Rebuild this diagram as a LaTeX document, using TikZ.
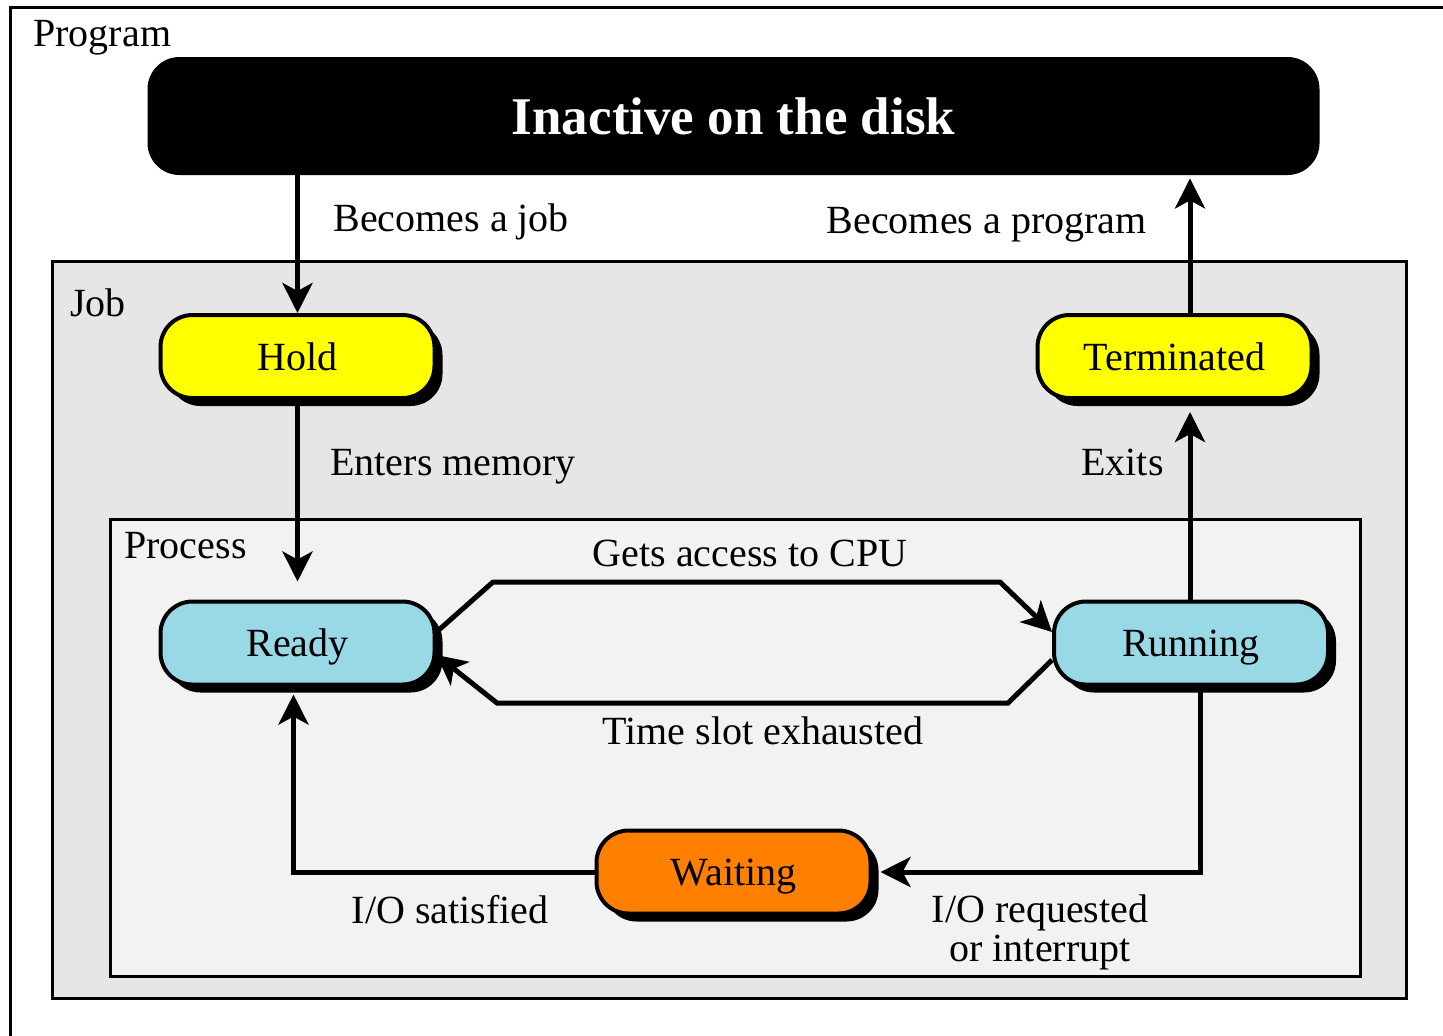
\documentclass[tikz,border=0pt]{standalone}
\usepackage{fontspec}
\setmainfont{Liberation Serif}
\usetikzlibrary{arrows.meta,shadows}
\definecolor{holdyellow}{HTML}{FFFF00}
\definecolor{readyblue}{HTML}{99D9E6}
\definecolor{waitorange}{HTML}{FF8000}
\definecolor{jobgray}{HTML}{E6E6E6}
\definecolor{procgray}{HTML}{F2F2F2}
\tikzset{
  state/.style={draw,line width=2pt,rounded corners=16pt,minimum width=137pt,minimum height=41.5pt,
    text height=18pt,text depth=4.4pt,font=\fontsize{20}{24}\selectfont,
    drop shadow={shadow xshift=4pt,shadow yshift=-4pt,fill=black,opacity=1}},
  flow/.style={line width=2.5pt,-{Stealth[length=15pt,width=15pt,inset=4pt]}},
  lbl/.style={font=\fontsize{20}{19.5}\selectfont,inner sep=0pt},
  txt/.style={lbl,text height=18pt,text depth=4.4pt},
  frame/.style={draw,line width=1.5pt}
}
\begin{document}
\begin{tikzpicture}[x=0.5pt,y=-0.5pt]
  \useasboundingbox (0,0) rectangle (1443,1035);
  \clip (0,0) rectangle (1443,1035);
  % nested frames: program, job, process
  \draw[frame] (10,7) rectangle (1500,1100);
  \draw[frame,fill=jobgray] (52,261) rectangle (1406,998);
  \draw[frame,fill=procgray] (110,519) rectangle (1360,976);
  \node[txt,anchor=west] (program) at (33,33) {Program};
  \node[txt,anchor=west] (job) at (70,303) {Job};
  \node[txt,anchor=west] (process) at (124,545) {Process};
  % states
  \node[fill=black,text=white,rounded corners=16pt,minimum width=586pt,minimum height=59pt,
    font=\fontsize{26.5}{30}\selectfont\bfseries] (disk) at (733.5,116) {Inactive on the disk};
  \node[state,fill=holdyellow] (hold) at (297.5,356.5) {Hold};
  \node[state,fill=holdyellow] (term) at (1174.5,356.5) {Terminated};
  \node[state,fill=readyblue] (ready) at (297.5,643) {Ready};
  \node[state,fill=readyblue] (run) at (1191,643) {Running};
  \node[state,fill=waitorange] (wait) at (733.5,872) {Waiting};
  \coordinate (up) at ([xshift=-0.5pt]run.north);
  % transitions
  \draw[flow] (disk.south -| hold.north) -- (hold.north);
  \draw[flow] (hold.south) -- ([yshift=9pt]ready.north);
  \draw[flow] (up) -- ([yshift=-6pt]up |- term.south);
  \draw[flow] (up |- term.north) -- ([yshift=-1.5pt]up |- disk.south);
  \draw[flow] ([yshift=5.5pt]ready.east) -- (493,582) -- (1000,582) -- ([yshift=5.5pt]run.west);
  \draw[flow] ([yshift=-8.5pt]run.west) -- (1008,703) -- (497,703) -- ([yshift=-6pt]ready.east);
  \draw[flow] ([xshift=4.5pt]run.south) |- ([xshift=4pt]wait.east);
  \draw[flow] (wait.west) -| ([xshift=-2pt,yshift=-4pt]ready.south);
  % labels
  \node[txt,anchor=west] (becjob) at (333,218) {Becomes a job};
  \node[txt,anchor=east] (becprog) at (1147,220) {Becomes a program};
  \node[txt,anchor=west] (enters) at (330,462) {Enters memory};
  \node[txt,anchor=east] (exits) at (1164,462) {Exits};
  \node[txt] (cpu) at (750,553) {Gets access to CPU};
  \node[txt] (slot) at (763,731) {Time slot exhausted};
  \node[txt] (iosat) at (450,910) {I/O satisfied};
  \node[lbl,align=center] (ioreq) at (1040,932) {I/O requested\\or interrupt};
\end{tikzpicture}
\end{document}
